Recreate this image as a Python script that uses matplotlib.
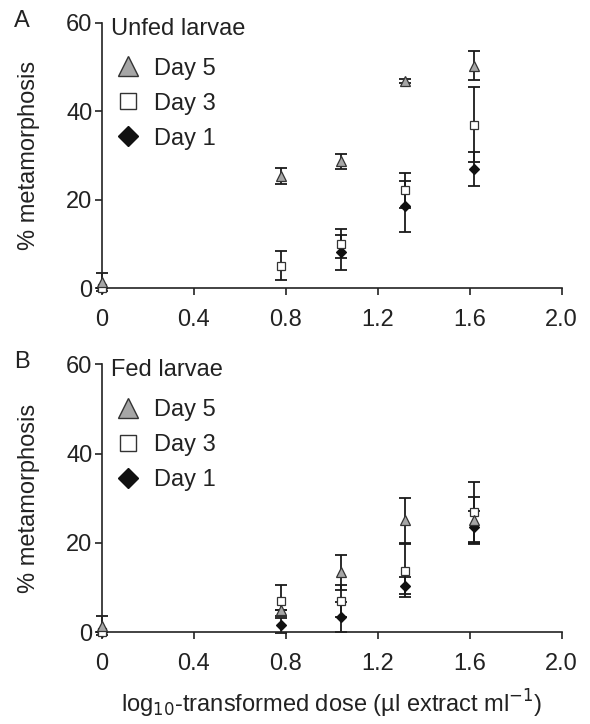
import matplotlib
matplotlib.use("Agg")
import matplotlib.pyplot as plt
from matplotlib.lines import Line2D
import numpy as np

plt.rcParams['font.family'] = ['Liberation Sans', 'DejaVu Sans']

dose = [0, 0.78, 1.04, 1.32, 1.62]
x_ticks = [0, 0.4, 0.8, 1.2, 1.6, 2.0]
x_tick_labels = ["0", "0.4", "0.8", "1.2", "1.6", "2.0"]
y_ticks = [0, 20, 40, 60]

# Panel A: unfed larvae
unfed_day5 = [1.5, 25.3, 28.7, 46.8, 50.3]
unfed_day5_err = [2.0, 1.8, 1.7, 0.4, 3.3]
unfed_day3 = [0, 5.1, 10.1, 22.1, 37.0]
unfed_day3_err = [0, 3.3, 3.3, 3.9, 8.4]
unfed_day1 = [0, None, 8.1, 18.5, 27.0]
unfed_day1_err = [0, None, 3.9, 5.7, 3.8]

# Panel B: fed larvae
fed_day5 = [1.5, 5.1, 13.4, 25.1, 25.1]
fed_day5_err = [2.2, 0, 3.9, 5.0, 5.3]
fed_day3 = [0, 7.1, 7.0, 13.8, 27.0]
fed_day3_err = [0, 3.5, 3.6, 5.9, 6.7]
fed_day1 = [0, 1.6, 3.4, 10.4, 23.5]
fed_day1_err = [0, 1.7, 3.4, 1.9, 3.6]

FS = 17
W, H = 590, 724
fig = plt.figure(figsize=(W / 100, H / 100), dpi=100)
left = 102 / W
width = (561.7 - 102) / W
axA = fig.add_axes([left, 1 - 288.3 / H, width, (288.3 - 22.7) / H])
axB = fig.add_axes([left, 1 - 632.3 / H, width, (632.3 - 364.3) / H])

ec = '#1a1a1a'
txt = '#222222'
styles = {
    'Day 5': dict(marker='^', mfc='#a6a6a6', mec='#333333', ms=7),
    'Day 3': dict(marker='s', mfc='white', mec='#333333', ms=6),
    'Day 1': dict(marker='D', mfc='#111111', mec='#111111', ms=5),
}


def draw(ax, series, title, letter):
    for label, vals, errs in series:
        xs = [d for d, v in zip(dose, vals) if v is not None]
        ys = [v for v in vals if v is not None]
        es = [e for e in errs if e is not None]
        ax.errorbar(xs, ys, yerr=es, fmt='none', ecolor=ec, elinewidth=1.3,
                    capsize=4, capthick=1.3, zorder=2, clip_on=False)
    for label, vals, errs in series[::-1]:
        xs = [d for d, v in zip(dose, vals) if v is not None]
        ys = [v for v in vals if v is not None]
        st = styles[label]
        ax.plot(xs, ys, linestyle='none', marker=st['marker'], mfc=st['mfc'],
                mec=st['mec'], ms=st['ms'], mew=0.9, zorder=3, clip_on=False)
    ax.set_xlim(0, 2.0)
    ax.set_ylim(0, 60)
    ax.set_xticks(x_ticks)
    ax.set_xticklabels(x_tick_labels)
    ax.set_yticks(y_ticks)
    for s in ['top', 'right']:
        ax.spines[s].set_visible(False)
    for s in ['left', 'bottom']:
        ax.spines[s].set_linewidth(1.2)
        ax.spines[s].set_color(txt)
    ax.tick_params(direction='out', length=5, width=1.2, colors=txt,
                   labelsize=FS, labelcolor=txt)
    ax.tick_params(axis='x', pad=10)
    ax.tick_params(axis='y', pad=2)
    ax.set_ylabel('% metamorphosis', fontsize=FS, color=txt, labelpad=19)
    handles = []
    for label in ['Day 5', 'Day 3', 'Day 1']:
        st = styles[label]
        handles.append(Line2D([], [], linestyle='none', marker=st['marker'],
                              mfc=st['mfc'], mec=st['mec'], ms=st['ms'] * 2,
                              mew=1.0, label=label))
    leg = ax.legend(handles=handles, title=title, loc='upper left',
                    bbox_to_anchor=(0.0, 1.055), frameon=False, fontsize=FS,
                    title_fontsize=FS, labelspacing=0.55, handletextpad=0.4,
                    borderaxespad=0.0, handlelength=1.4)
    leg._legend_box.align = 'left'
    leg._legend_box.sep = 13
    for t in leg.get_texts():
        t.set_color(txt)
    leg.get_title().set_color(txt)
    fig.text(14 / W, ax.get_position().y1 + 2 / H, letter, fontsize=FS,
             color=txt, va='center', ha='left')


draw(axA, [('Day 5', unfed_day5, unfed_day5_err),
           ('Day 3', unfed_day3, unfed_day3_err),
           ('Day 1', unfed_day1, unfed_day1_err)], 'Unfed larvae', 'A')
draw(axB, [('Day 5', fed_day5, fed_day5_err),
           ('Day 3', fed_day3, fed_day3_err),
           ('Day 1', fed_day1, fed_day1_err)], 'Fed larvae', 'B')

fig.text((102 + 561.7) / 2 / W, 1 - 704 / H,
         r'log$_{10}$-transformed dose (µl extract ml$^{-1}$)',
         ha='center', va='center', fontsize=FS, color=txt)

fig.savefig('out.png', dpi=100, facecolor='white')
